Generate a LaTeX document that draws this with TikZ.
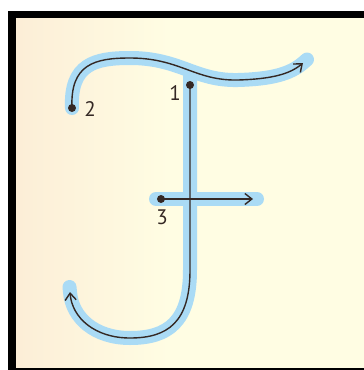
\documentclass[tikz,border=0pt]{standalone}
\usepackage{fontspec}
\setmainfont{PT Sans}
\usetikzlibrary{arrows.meta}
\definecolor{bgL}{RGB}{243,229,207}
\definecolor{bgP}{RGB}{251,233,211}
\definecolor{bgR}{RGB}{255,253,227}
\definecolor{hl}{RGB}{170,219,245}
\definecolor{ink}{RGB}{52,40,36}
\pgfdeclarehorizontalshading{bgshade}{100bp}{color(0bp)=(bgL); color(18bp)=(bgP); color(47bp)=(bgR); color(100bp)=(bgR)}
\begin{document}
\begin{tikzpicture}[x=1pt,y=-1pt,
 hlpath/.style={hl,line width=14pt,line cap=round},
 inkpath/.style={ink,line width=1.4pt},
 tipend/.style={-{Straight Barb[length=7pt,width=11pt,line width=1.4pt]}},
 dotnode/.style={circle,fill=ink,inner sep=0pt,minimum size=8pt},
 lbl/.style={text=ink,font=\fontsize{21}{21}\selectfont,inner sep=0pt}]
\useasboundingbox (0,0) rectangle (364,370);
\fill[white] (0,0) rectangle (364,370);
\fill[black] (8,11) rectangle (364,370);
\shade[shading=bgshade] (16,18) rectangle (364,367);
% highlight
\draw[hlpath] (190,75) -- (190,270) .. controls (190,322) and (168,338) .. (130,338) .. controls (95,338) and (72,318) .. (70,292) -- (69.5,287);
\draw[hlpath] (72,108) .. controls (70,64) and (95,58) .. (130,58) .. controls (180,58) and (195,81) .. (238,80) .. controls (272,79) and (290,74) .. (303,63) -- (307,59.5);
\draw[hlpath] (156,199) -- (257,199);
% dots
\node[dotnode] (p1) at (190,85) {};
\node[dotnode] (p2) at (72,108) {};
\node[dotnode] (p3) at (161,199) {};
\coordinate (e1) at (70,292);
\coordinate (e2) at (303,63);
\coordinate (e3) at (253,199);
% strokes
\draw[inkpath,tipend] (p1.center) -- (190,270) .. controls (190,322) and (168,338) .. (130,338) .. controls (95,338) and (72,318) .. (e1);
\draw[inkpath,tipend] (p2.center) .. controls (70,64) and (95,58) .. (130,58) .. controls (180,58) and (195,81) .. (238,80) .. controls (272,79) and (290,74) .. (e2);
\draw[inkpath,tipend] (p3.center) -- (e3);
% labels
\node[lbl] (l1) at (175,93) {1};
\node[lbl] (l2) at (90,109) {2};
\node[lbl] (l3) at (162,217) {3};
\end{tikzpicture}
\end{document}
